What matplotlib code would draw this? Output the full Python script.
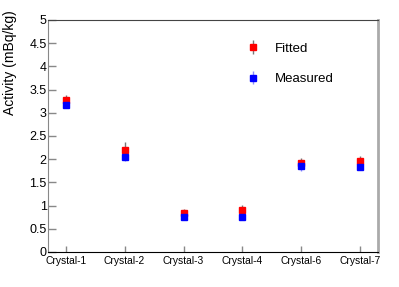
import numpy as np
import matplotlib.pyplot as plt

plt.rcParams['font.family'] = ['Liberation Sans', 'DejaVu Sans']

# datos
cristales = ['Crystal-1', 'Crystal-2', 'Crystal-3', 'Crystal-4', 'Crystal-6', 'Crystal-7']
fitted = [3.27, 2.20, 0.83, 0.91, 1.92, 1.97]
fitted_err = [0.12, 0.17, 0.09, 0.10, 0.10, 0.10]
measured = [3.17, 2.04, 0.75, 0.75, 1.85, 1.84]
measured_err = [0.06, 0.08, 0.05, 0.04, 0.10, 0.08]

x = np.arange(len(cristales))

fig = plt.figure(figsize=(3.99, 2.87), dpi=100)
ax = fig.add_axes([48/399, 1-252/287, 330/399, 232/287])

h1 = ax.errorbar(x, fitted, yerr=fitted_err, fmt='s', color='red', ms=4,
                 ecolor='#777777', elinewidth=1, capsize=0, label='Fitted', zorder=3)
h2 = ax.errorbar(x, measured, yerr=measured_err, fmt='s', color='blue', ms=4,
                 ecolor='#8c8cff', elinewidth=1, capsize=0, label='Measured', zorder=3)

ax.set_xlim(-0.3, 5.3)
ax.set_ylim(0, 5)
ax.set_xticks(x)
ax.set_xticklabels(cristales, fontsize=7.4)
ax.set_yticks(np.arange(0, 5.01, 0.5))
ax.set_yticklabels(['0', '0.5', '1', '1.5', '2', '2.5', '3', '3.5', '4', '4.5', '5'], fontsize=9)
ax.tick_params(axis='y', direction='in', length=6, width=1, color='#888888', pad=1)
ax.tick_params(axis='x', direction='in', length=4, width=1, color='#888888', pad=3)

ax.set_ylabel('Activity (mBq/kg)', fontsize=10, loc='top')
ax.yaxis.set_label_coords(-0.095, 1.04)

ax.spines['top'].set_color('#444444')
ax.spines['bottom'].set_color('black')
ax.spines['left'].set_color('#888888')
ax.spines['right'].set_color('#aaaaaa')
ax.spines['right'].set_linewidth(2)

ax.legend(handles=[h1, h2], loc='upper left', bbox_to_anchor=(0.565, 0.955), frameon=False,
          fontsize=9.5, labelspacing=1.4, handlelength=1.0, handletextpad=1.2)

plt.savefig('out.png', dpi=100)
